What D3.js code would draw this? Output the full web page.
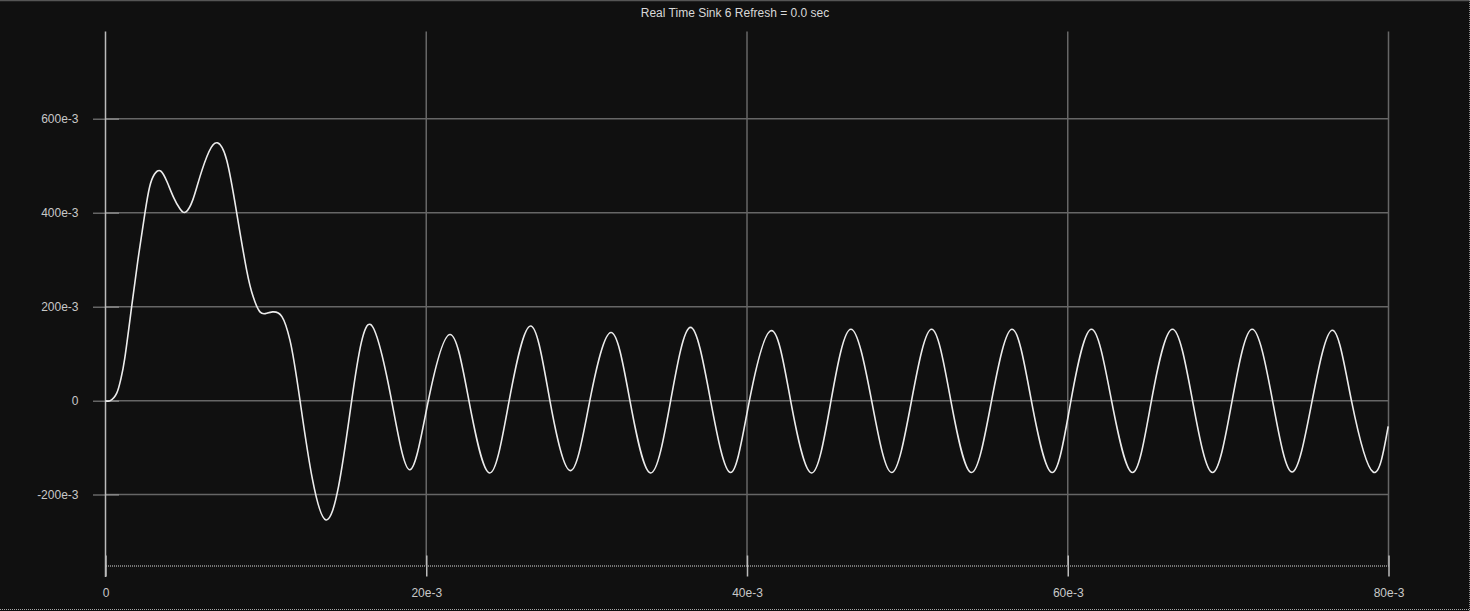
<!DOCTYPE html>
<html>
<head>
<meta charset="utf-8">
<script src="https://cdn.jsdelivr.net/npm/d3@7/dist/d3.min.js"></script>
<style>
  html, body { margin: 0; padding: 0; background: #101010; overflow: hidden; }
  svg { display: block; }
  text { font-family: "Liberation Sans", Arial, sans-serif; }
</style>
</head>
<body>
<svg id="chart" width="1470" height="611"></svg>
<script>
// ---- data (time in units of 1e-3 s, value in units of 1e-3) ----
const titleText = "Real Time Sink 6 Refresh = 0.0 sec";
const xTickValues = [0, 20, 40, 60, 80];
const xTickLabels = ["0", "20e-3", "40e-3", "60e-3", "80e-3"];
const yTickValues = [-200, 0, 200, 400, 600];
const yTickLabels = ["-200e-3", "0", "200e-3", "400e-3", "600e-3"];

const timeMs = [
  0, 0.3, 0.7, 0.95, 1.2, 1.63, 2.05, 2.46, 2.75, 3.05, 3.44, 3.85, 4.23, 4.65, 5.02,
  5.45, 5.89, 6.45, 6.97, 7.56, 8.18, 8.8, 9.21, 9.63, 10.05, 10.42, 11.0, 11.5, 12.13,
  13.75, 15.35, 16.53, 17.84, 18.98, 20.13, 21.48, 22.66, 23.95, 25.17,
  26.51, 27.71, 29.0, 30.2, 31.52, 32.7, 33.99, 35.24, 36.48, 37.73, 38.98, 40.15,
  41.53, 42.72, 44.03, 45.24, 46.48, 47.77, 49.02, 50.26, 51.51, 52.71, 54.0, 55.25,
  56.53, 57.73, 59.03, 60.2, 61.48, 62.73, 64.04, 65.22, 66.53, 67.78, 69.03, 70.25,
  71.5, 72.77, 73.99, 75.24, 76.51, 77.69, 79.04, 79.98
];
const valueMilli = [
  0, 0, 16, 45, 90, 200, 306, 400, 455, 482, 489, 465, 434, 408, 402,
  428, 477, 530, 549, 512, 400, 278, 221, 189, 186, 189, 179, 129, 0,
  -254, 0, 162, 0, -147, 0, 141, 0, -154, 0,
  159, 0, -149, 0, 145, 0, -154, 0, 156, 0, -153, 0,
  149, 0, -154, 0, 152, 0, -153, 0, 152, 0, -153, 0,
  152, 0, -153, 0, 152, 0, -153, 0, 152, 0, -153, 0,
  152, 0, -152, 0, 150, 0, -152, -55
];

// ---- layout ----
const svg = d3.select("#chart");
const W = 1470, H = 611;
const plotLeft = 105.5, plotRight = 1388.5, plotTop = 31.5, plotBottom = 565.5;

const x = d3.scaleLinear().domain([0, 80]).range([plotLeft, plotRight]);
const y = d3.scaleLinear().domain([-351, 786]).range([plotBottom, plotTop]);

svg.append("rect").attr("width", W).attr("height", H).attr("fill", "#101010");

// frame artifacts
svg.append("line").attr("x1", 0).attr("x2", W).attr("y1", 0.5).attr("y2", 0.5)
  .attr("stroke", "#555").attr("stroke-width", 1.5);
svg.append("line").attr("x1", 0).attr("x2", W).attr("y1", 609.5).attr("y2", 609.5)
  .attr("stroke", "#aaa").attr("stroke-width", 1).attr("stroke-dasharray", "1,1");
svg.append("line").attr("x1", 1469.5).attr("x2", 1469.5).attr("y1", 0).attr("y2", H)
  .attr("stroke", "#888").attr("stroke-width", 1).attr("stroke-dasharray", "1,1");

// title
svg.append("text").attr("x", 735).attr("y", 17).attr("text-anchor", "middle")
  .attr("font-size", 12).attr("fill", "#d8d8d8").text(titleText);

// horizontal grid lines
svg.append("g").selectAll("line").data(yTickValues).join("line")
  .attr("x1", plotLeft).attr("x2", plotRight)
  .attr("y1", d => y(d)).attr("y2", d => y(d))
  .attr("stroke", "#666").attr("stroke-width", 1.5);

// vertical grid lines
svg.append("g").selectAll("line").data(xTickValues.filter(d => d !== 0)).join("line")
  .attr("x1", d => x(d)).attr("x2", d => x(d))
  .attr("y1", plotTop).attr("y2", plotBottom)
  .attr("stroke", "#666").attr("stroke-width", 1.5);

// y axis
const yAxis = d3.axisLeft(y).tickValues(yTickValues)
  .tickFormat((d, i) => yTickLabels[i]).tickSizeInner(13).tickSizeOuter(0).tickPadding(14);
const gy = svg.append("g").attr("transform", `translate(${plotLeft},0)`).call(yAxis);
gy.select(".domain").remove();
gy.selectAll(".tick line").attr("stroke", "#bbb").attr("stroke-width", 1.5)
  .attr("x1", 13).attr("stroke-dasharray", "1,1");
gy.selectAll(".tick text").attr("fill", "#c8c8c8").attr("font-size", 12)
  .attr("font-family", "Liberation Sans, Arial, sans-serif");
svg.append("line").attr("x1", plotLeft).attr("x2", plotLeft)
  .attr("y1", plotTop).attr("y2", plotBottom + 11.5)
  .attr("stroke", "#bbb").attr("stroke-width", 1.5);

// x axis
const xAxis = d3.axisBottom(x)
  .tickValues(xTickValues).tickFormat((d, i) => xTickLabels[i])
  .tickSizeInner(11).tickSizeOuter(0).tickPadding(12);
const gx = svg.append("g").attr("transform", `translate(0,${plotBottom})`).call(xAxis);
gx.select(".domain").attr("stroke", "#ddd").attr("stroke-width", 1)
  .attr("stroke-dasharray", "1,1");
gx.selectAll(".tick line").attr("stroke", "#bbb").attr("stroke-width", 1.5).attr("y1", -10);
gx.selectAll(".tick text").attr("fill", "#c8c8c8").attr("font-size", 12)
  .attr("font-family", "Liberation Sans, Arial, sans-serif");

// signal
const pts = timeMs.map((t, i) => [t, valueMilli[i]]);
const line = d3.line().x(d => x(d[0])).y(d => y(d[1])).curve(d3.curveNatural);
svg.append("path").datum(pts).attr("d", line)
  .attr("fill", "none").attr("stroke", "#ececec").attr("stroke-width", 1.6);
</script>
</body>
</html>
